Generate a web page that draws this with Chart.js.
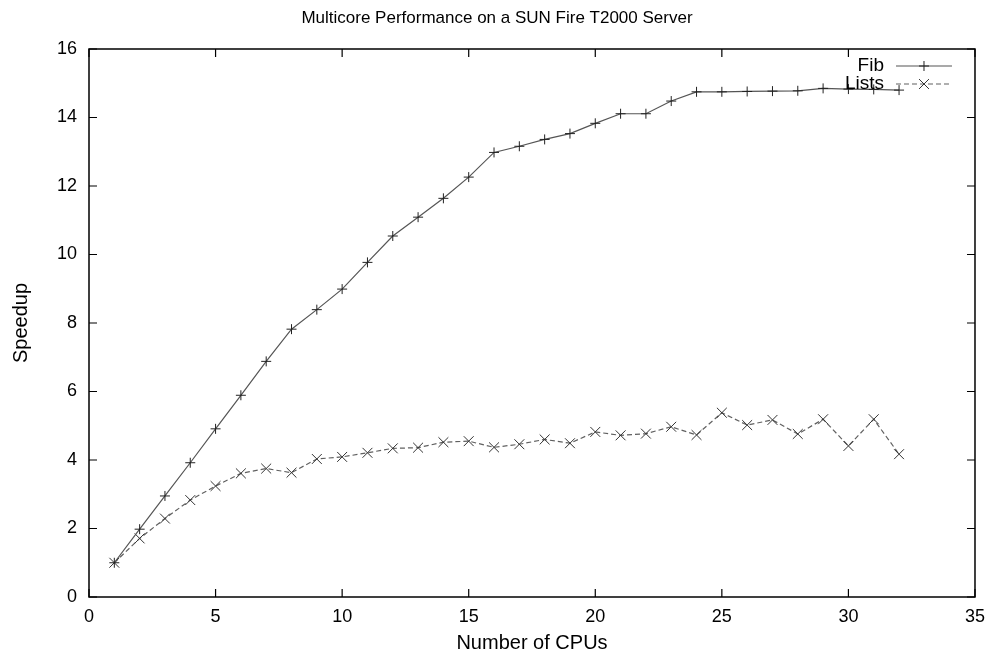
<!DOCTYPE html>
<html>
<head>
<meta charset="utf-8">
<script src="https://cdn.jsdelivr.net/npm/chart.js@4/dist/chart.umd.min.js"></script>
<style>
  html, body { margin: 0; padding: 0; background: #fff; }
  #wrap { width: 994px; height: 653px; }
</style>
</head>
<body>
<div id="wrap"><canvas id="speedupChart" width="994" height="653"></canvas></div>
<script>
// Data
const cpus = [1, 2, 3, 4, 5, 6, 7, 8, 9, 10, 11, 12, 13, 14, 15, 16,
  17, 18, 19, 20, 21, 22, 23, 24, 25, 26, 27, 28, 29, 30, 31, 32]
const fibSpeedup = [1.0, 1.98, 2.95, 3.92, 4.91, 5.89, 6.88, 7.82, 8.39, 8.99, 9.77, 10.54,
  11.09, 11.64, 12.26, 12.98, 13.16, 13.36, 13.53, 13.83, 14.11, 14.11, 14.48, 14.75,
  14.75, 14.76, 14.77, 14.78, 14.85, 14.83, 14.82, 14.8]
const listsSpeedup = [1.0, 1.71, 2.29, 2.83, 3.24, 3.61, 3.75, 3.63, 4.03, 4.09, 4.21, 4.34,
  4.36, 4.52, 4.55, 4.37, 4.46, 4.6, 4.49, 4.82, 4.72, 4.77, 4.97, 4.73,
  5.38, 5.02, 5.17, 4.76, 5.19, 4.41, 5.19, 4.17]
const xTicks = [0, 5, 10, 15, 20, 25, 30, 35]
const yTicks = [0, 2, 4, 6, 8, 10, 12, 14, 16]

const FONT = '"Liberation Sans", Arial, Helvetica, sans-serif'

// gnuplot style frame with inward ticks on all four sides, plus the key
const framePlugin = {
  id: 'frame',
  afterDatasetsDraw(chart) {
    const { ctx, chartArea: a, scales } = chart
    const len = 8
    ctx.save()
    ctx.strokeStyle = '#000'
    ctx.lineWidth = 1.5
    ctx.strokeRect(a.left, a.top, a.right - a.left, a.bottom - a.top)
    ctx.lineWidth = 1.2
    ctx.beginPath()
    xTicks.forEach(v => {
      const px = scales.x.getPixelForValue(v)
      ctx.moveTo(px, a.bottom); ctx.lineTo(px, a.bottom - len)
      ctx.moveTo(px, a.top); ctx.lineTo(px, a.top + len)
    })
    yTicks.forEach(v => {
      const py = scales.y.getPixelForValue(v)
      ctx.moveTo(a.left, py); ctx.lineTo(a.left + len, py)
      ctx.moveTo(a.right, py); ctx.lineTo(a.right - len, py)
    })
    ctx.stroke()

    // key (top right, inside the plot)
    ctx.font = '19px ' + FONT
    ctx.fillStyle = '#000'
    ctx.textAlign = 'right'
    ctx.textBaseline = 'middle'
    const textX = a.right - 91
    const x0 = a.right - 79, x1 = a.right - 23
    chart.data.datasets.forEach((ds, i) => {
      const y = a.top + 17 + i * 18
      ctx.fillText(ds.label, textX, y)
      ctx.strokeStyle = ds.borderColor
      ctx.lineWidth = ds.borderWidth
      ctx.setLineDash(ds.borderDash || [])
      ctx.beginPath(); ctx.moveTo(x0, y); ctx.lineTo(x1, y); ctx.stroke()
      ctx.setLineDash([])
      const mid = (x0 + x1) / 2
      ctx.strokeStyle = ds.pointBorderColor
      ctx.lineWidth = 1
      ctx.beginPath()
      if (ds.pointStyle === 'cross') {
        const r = ds.pointRadius
        ctx.moveTo(mid - r, y); ctx.lineTo(mid + r, y)
        ctx.moveTo(mid, y - r); ctx.lineTo(mid, y + r)
      } else {
        const r = ds.pointRadius * Math.SQRT1_2
        ctx.moveTo(mid - r, y - r); ctx.lineTo(mid + r, y + r)
        ctx.moveTo(mid - r, y + r); ctx.lineTo(mid + r, y - r)
      }
      ctx.stroke()
    })
    ctx.restore()
  }
}

const ctx = document.getElementById('speedupChart').getContext('2d')
new Chart(ctx, {
  type: 'line',
  data: {
    datasets: [
      {
        label: 'Fib',
        data: cpus.map((c, i) => ({ x: c, y: fibSpeedup[i] })),
        borderColor: '#555',
        borderWidth: 1.2,
        pointStyle: 'cross',
        pointRadius: 5,
        pointBorderColor: '#222',
        pointBorderWidth: 1,
        tension: 0
      },
      {
        label: 'Lists',
        data: cpus.map((c, i) => ({ x: c, y: listsSpeedup[i] })),
        borderColor: '#606060',
        borderWidth: 1.2,
        borderDash: [5, 3],
        pointStyle: 'crossRot',
        pointRadius: 7,
        pointBorderColor: '#333',
        pointBorderWidth: 1,
        tension: 0
      }
    ]
  },
  options: {
    responsive: false,
    animation: false,
    layout: { padding: { left: 16, right: 16 } },
    plugins: {
      legend: { display: false },
      tooltip: { enabled: false },
      title: {
        display: true,
        text: 'Multicore Performance on a SUN Fire T2000 Server',
        color: '#000',
        font: { family: FONT, size: 17, weight: 'normal', lineHeight: 1.2 },
        padding: { top: 8, bottom: 20.6 }
      }
    },
    scales: {
      x: {
        type: 'linear',
        min: 0,
        max: 35,
        afterFit: s => { s.height = 56 },
        afterBuildTicks: s => { s.ticks = xTicks.map(v => ({ value: v })) },
        grid: { display: false, drawTicks: false },
        border: { display: false },
        ticks: { color: '#000', padding: 9, font: { family: FONT, size: 18 } },
        title: {
          display: true,
          text: 'Number of CPUs',
          color: '#000',
          font: { family: FONT, size: 20, lineHeight: 1 },
          padding: { top: 0, bottom: 0 }
        }
      },
      y: {
        type: 'linear',
        min: 0,
        max: 16,
        afterFit: s => { s.width = 73 },
        afterBuildTicks: s => { s.ticks = yTicks.map(v => ({ value: v })) },
        grid: { display: false, drawTicks: false },
        border: { display: false },
        ticks: { color: '#000', padding: 12, font: { family: FONT, size: 18 } },
        title: {
          display: true,
          text: 'Speedup',
          color: '#000',
          font: { family: FONT, size: 20, lineHeight: 1 },
          padding: { top: -5, bottom: 0 }
        }
      }
    }
  },
  plugins: [framePlugin]
})
</script>
</body>
</html>
